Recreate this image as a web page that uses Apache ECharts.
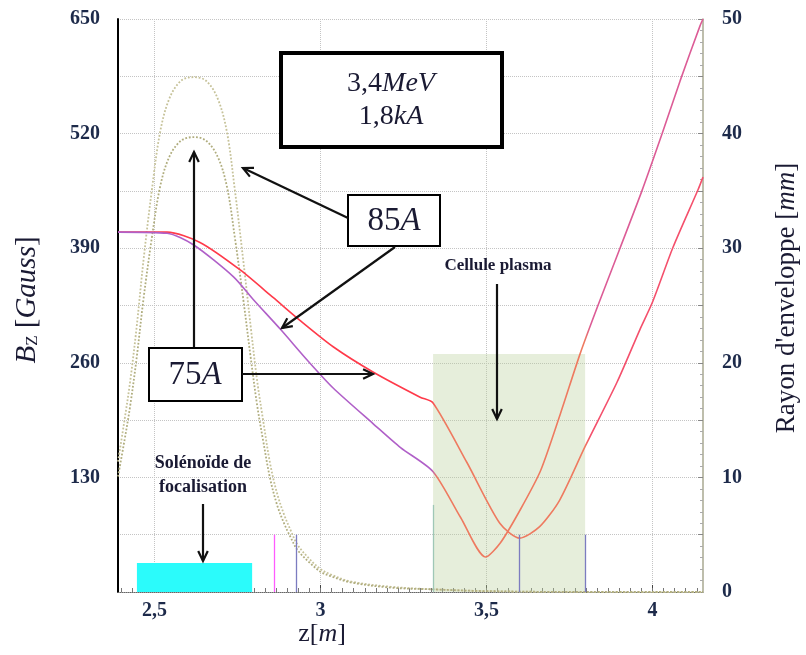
<!DOCTYPE html>
<html><head><meta charset="utf-8">
<script src="https://cdn.jsdelivr.net/npm/echarts@6/dist/echarts.min.js"></script>
<style>html,body{margin:0;padding:0;background:#fff}#c{width:806px;height:655px}</style>
</head><body><div id="c"></div>
<script>
// ---- data ----
const zTicks = [2.5, 3, 3.5, 4];
const zTickLabels = ['2,5', '3', '3,5', '4'];
const bzTicks = [130, 260, 390, 520, 650];
const mmTicks = [0, 10, 20, 30, 40, 50];

// Bz field [Gauss] along z [m]
const bz85 = [[2.390,148],[2.410,196],[2.427,240],[2.446,300],[2.467,377],[2.492,456],[2.517,522],[2.545,560],[2.580,580],[2.618,584],[2.655,580],[2.690,560],[2.718,522],[2.742,456],[2.767,377],[2.790,300],[2.809,240],[2.827,195],[2.848,146],[2.869,112],[2.890,88],[2.910,70],[2.930,54],[2.968,37],[3.000,26],[3.030,20],[3.090,12],[3.210,6],[3.340,3],[3.500,1],[3.800,0],[4.152,0]];
const bz75 = [[2.390,131],[2.410,173],[2.427,212],[2.446,265],[2.467,333],[2.492,402],[2.517,460],[2.545,494],[2.580,512],[2.618,516],[2.655,512],[2.690,494],[2.718,460],[2.742,402],[2.767,333],[2.790,265],[2.809,212],[2.827,172],[2.848,129],[2.869,99],[2.890,78],[2.910,62],[2.930,48],[2.968,33],[3.000,23],[3.030,18],[3.090,11],[3.210,5],[3.340,3],[3.500,1],[3.800,0],[4.152,0]];

// envelope radius [mm] along z [m]
const env75 = [[2.390,31.4],[2.538,31.4],[2.637,30.5],[2.758,28.1],[2.857,25.7],[2.938,23.7],[3.038,21.4],[3.158,19.2],[3.300,17.0],[3.339,16.5],[3.441,11.3],[3.540,6.0],[3.600,4.7],[3.660,5.7],[3.720,8.0],[3.797,12.7],[3.893,18.3],[3.962,22.9],[4.000,25.3],[4.062,30.1],[4.137,35.1],[4.152,36.2]];
const env85 = [[2.390,31.4],[2.538,31.3],[2.617,30.3],[2.738,27.5],[2.798,25.5],[2.880,22.9],[2.961,20.2],[3.038,17.8],[3.158,14.7],[3.241,12.6],[3.339,10.5],[3.422,6.5],[3.497,3.05],[3.542,4.3],[3.602,7.2],[3.663,10.6],[3.723,15.6],[3.782,20.8],[3.833,24.8],[3.902,30.0],[3.968,35.0],[4.029,40.0],[4.083,44.6],[4.143,49.4],[4.152,50.0]];

// zones
const solenoidZ = [2.447, 2.794];
const solenoidBz = [0, 33];
const cellZ = [3.339, 3.797];
const cellBz = [0, 270];

// short vertical markers: position z [m], height [mm]
const markerZ = [2.860, 2.926, 3.339, 3.600, 3.797];
const markerMm = [5, 5, 7.6, 5, 5];

// ---- chart ----
const serif = "'Liberation Serif', 'DejaVu Serif', serif";
const ink = '#1a1a33';
const tickInk = '#1d2a4a';
const markerColors = ['#ff5cff', '#7c7cc0', '#9fc7b6', '#7c7cc0', '#7c7cc0'];

const minorTicks = [];
for (let k = -3; k <= 49; k++) minorTicks.push(+(2.5 + k / 30).toFixed(4));

function arrow(x1, y1, x2, y2) {
  const dx = x2 - x1, dy = y2 - y1, L = Math.hypot(dx, dy), ux = dx / L, uy = dy / L, h = 11, a = 0.45;
  const c = Math.cos(a), s = Math.sin(a);
  const p1 = [x2 - h * (ux * c - uy * s), y2 - h * (uy * c + ux * s)];
  const p2 = [x2 - h * (ux * c + uy * s), y2 - h * (uy * c - ux * s)];
  return [
    {type: 'line', shape: {x1, y1, x2, y2}, style: {stroke: '#111', lineWidth: 2.2}, z: 100},
    {type: 'polyline', shape: {points: [p1, [x2, y2], p2]}, style: {stroke: '#111', lineWidth: 2.2, fill: null}, z: 100}
  ];
}
function boxText(x, y, text, size) {
  return {type: 'text', x, y, z: 101, style: {
    text, align: 'center', verticalAlign: 'middle',
    rich: {
      n: {fontFamily: serif, fontSize: size, fill: ink, lineHeight: size * 1.2},
      i: {fontFamily: serif, fontStyle: 'italic', fontSize: size, fill: ink, lineHeight: size * 1.2}
    }
  }};
}

const grad = (stops) => ({type: 'linear', x: 0, y: 0, x2: 1, y2: 0, colorStops: stops});

const chart = echarts.init(document.getElementById('c'), null, {renderer: 'canvas'});
chart.setOption({
  animation: false,
  backgroundColor: '#ffffff',
  grid: {left: 118, right: 103, top: 19, bottom: 63},
  xAxis: [{
    type: 'value', min: 2.39, max: 4.152, position: 'bottom',
    axisLine: {show: true, lineStyle: {color: '#666', width: 1, type: 'dotted'}},
    axisTick: {show: true, inside: true, length: 7, customValues: zTicks, lineStyle: {color: '#444'}},
    axisLabel: {customValues: zTicks, formatter: v => zTickLabels[zTicks.indexOf(+v)] ?? '',
      fontFamily: serif, fontWeight: 'bold', fontSize: 20, color: tickInk, margin: 9},
    splitLine: {show: true, lineStyle: {color: '#c4c4c4', type: 'dotted', width: 1}}
  }, {
    type: 'value', min: 2.39, max: 4.152, position: 'bottom',
    axisLine: {show: false},
    axisTick: {show: true, inside: true, length: 4, customValues: minorTicks, lineStyle: {color: '#777'}},
    axisLabel: {show: false},
    splitLine: {show: false}
  }],
  yAxis: [{
    type: 'value', min: 0, max: 650, interval: 65, position: 'left',
    axisLine: {show: true, lineStyle: {color: '#000', width: 2}},
    axisTick: {show: false},
    axisLabel: {formatter: v => bzTicks.includes(+v) ? String(v) : '',
      fontFamily: serif, fontWeight: 'bold', fontSize: 20, color: tickInk, margin: 18},
    splitLine: {show: true, lineStyle: {color: '#c4c4c4', type: 'dotted', width: 1}}
  }, {
    type: 'value', min: 0, max: 50, interval: 5, position: 'right',
    axisLine: {show: true, lineStyle: {color: '#a8a890', width: 1.5}},
    axisTick: {show: true, inside: true, length: 5, lineStyle: {color: '#888'}},
    minorTick: {show: true, splitNumber: 5, length: 3, lineStyle: {color: '#aaa'}},
    axisLabel: {formatter: v => mmTicks.includes(+v) ? String(v) : '',
      fontFamily: serif, fontWeight: 'bold', fontSize: 20, color: tickInk, margin: 19},
    splitLine: {show: false}
  }],
  series: [
    {
      type: 'line', name: 'zones', xAxisIndex: 0, yAxisIndex: 0, data: [], z: 1, silent: true,
      markArea: {silent: true, label: {show: false}, data: [
        [{coord: [solenoidZ[0], solenoidBz[0]], itemStyle: {color: '#2bfbfb', opacity: 1}}, {coord: [solenoidZ[1], solenoidBz[1]]}],
        [{coord: [cellZ[0], cellBz[0]], itemStyle: {color: 'rgba(185,207,155,0.36)', opacity: 1}}, {coord: [cellZ[1], cellBz[1]]}]
      ]}
    },
    {
      type: 'line', name: 'markers', xAxisIndex: 0, yAxisIndex: 1, data: [], z: 2, silent: true,
      markLine: {silent: true, symbol: ['none', 'none'], label: {show: false},
        data: markerZ.map((z, i) => [
          {coord: [z, 0], lineStyle: {color: markerColors[i], width: 1.3, type: 'solid'}},
          {coord: [z, markerMm[i]]}
        ])}
    },
    {type: 'line', name: 'Bz 85A', xAxisIndex: 0, yAxisIndex: 0, data: bz85, showSymbol: false, smooth: 0.35, z: 3,
      lineStyle: {color: '#c6c299', width: 1.8, type: 'dotted'}},
    {type: 'line', name: 'Bz 75A', xAxisIndex: 0, yAxisIndex: 0, data: bz75, showSymbol: false, smooth: 0.35, z: 3,
      lineStyle: {color: '#b0ad7e', width: 1.8, type: 'dotted'}},
    {type: 'line', name: 'Enveloppe 75A', xAxisIndex: 0, yAxisIndex: 1, data: env75, showSymbol: false, smooth: 0.25, z: 4,
      lineStyle: {width: 1.6, color: grad([
        {offset: 0, color: '#ff3a4a'}, {offset: 0.535, color: '#ff3a4a'},
        {offset: 0.545, color: '#ee7a60'}, {offset: 0.795, color: '#ee7a60'},
        {offset: 0.805, color: '#f4506c'}, {offset: 1, color: '#f4506c'}])}},
    {type: 'line', name: 'Enveloppe 85A', xAxisIndex: 0, yAxisIndex: 1, data: env85, showSymbol: false, smooth: 0.25, z: 4,
      lineStyle: {width: 1.6, color: grad([
        {offset: 0, color: '#b060c8'}, {offset: 0.535, color: '#b060c8'},
        {offset: 0.545, color: '#ee7a60'}, {offset: 0.795, color: '#ee7a60'},
        {offset: 0.805, color: '#dc5c96'}, {offset: 1, color: '#dc5c96'}])}}
  ],
  graphic: [
    // axis titles
    {type: 'text', x: 27, y: 300, rotation: Math.PI / 2, z: 101, style: {
      text: '{b|B}{s|Z}{n| [}{i|Gauss}{n|]}', align: 'center', verticalAlign: 'middle',
      rich: {
        b: {fontFamily: serif, fontStyle: 'italic', fontSize: 29, fill: ink},
        s: {fontFamily: serif, fontSize: 17, fill: ink, verticalAlign: 'bottom', padding: [12, 0, 0, 0]},
        n: {fontFamily: serif, fontSize: 29, fill: ink},
        i: {fontFamily: serif, fontStyle: 'italic', fontSize: 29, fill: ink}
      }}},
    {type: 'text', x: 787, y: 298, rotation: Math.PI / 2, z: 101, style: {
      text: "{n|Rayon d'enveloppe [}{i|mm}{n|]}", align: 'center', verticalAlign: 'middle',
      rich: {
        n: {fontFamily: serif, fontSize: 27, fill: ink},
        i: {fontFamily: serif, fontStyle: 'italic', fontSize: 27, fill: ink}
      }}},
    {type: 'text', x: 322, y: 634, z: 101, style: {
      text: '{n|z[}{i|m}{n|]}', align: 'center', verticalAlign: 'middle',
      rich: {
        n: {fontFamily: serif, fontSize: 26, fill: ink},
        i: {fontFamily: serif, fontStyle: 'italic', fontSize: 26, fill: ink}
      }}},
    // boxes
    {type: 'rect', shape: {x: 281, y: 53, width: 221, height: 94}, style: {fill: '#fff', stroke: '#000', lineWidth: 4}, z: 100},
    boxText(391, 100, '{n|3,4}{i|MeV}\n{n|1,8}{i|kA}', 28),
    {type: 'rect', shape: {x: 348, y: 195, width: 92, height: 51}, style: {fill: '#fff', stroke: '#000', lineWidth: 2}, z: 100},
    boxText(394, 221, '{n|85}{i|A}', 33),
    {type: 'rect', shape: {x: 149, y: 348, width: 93, height: 53}, style: {fill: '#fff', stroke: '#000', lineWidth: 2}, z: 100},
    boxText(195, 375, '{n|75}{i|A}', 33),
    // arrows
    ...arrow(348, 218, 243, 168),
    ...arrow(395, 247, 282, 328),
    ...arrow(194, 347, 194, 152),
    ...arrow(242, 374, 373, 374),
    ...arrow(497, 284, 497, 419),
    ...arrow(203, 504, 203, 561),
    // labels
    {type: 'text', x: 498, y: 266, z: 101, style: {text: 'Cellule plasma', align: 'center', verticalAlign: 'middle',
      fontFamily: serif, fontWeight: 'bold', fontSize: 17, fill: ink}},
    {type: 'text', x: 203, y: 475, z: 101, style: {text: 'Solénoïde de\nfocalisation', align: 'center', verticalAlign: 'middle',
      fontFamily: serif, fontWeight: 'bold', fontSize: 18, lineHeight: 24, fill: ink}}
  ]
});
</script>
</body></html>
